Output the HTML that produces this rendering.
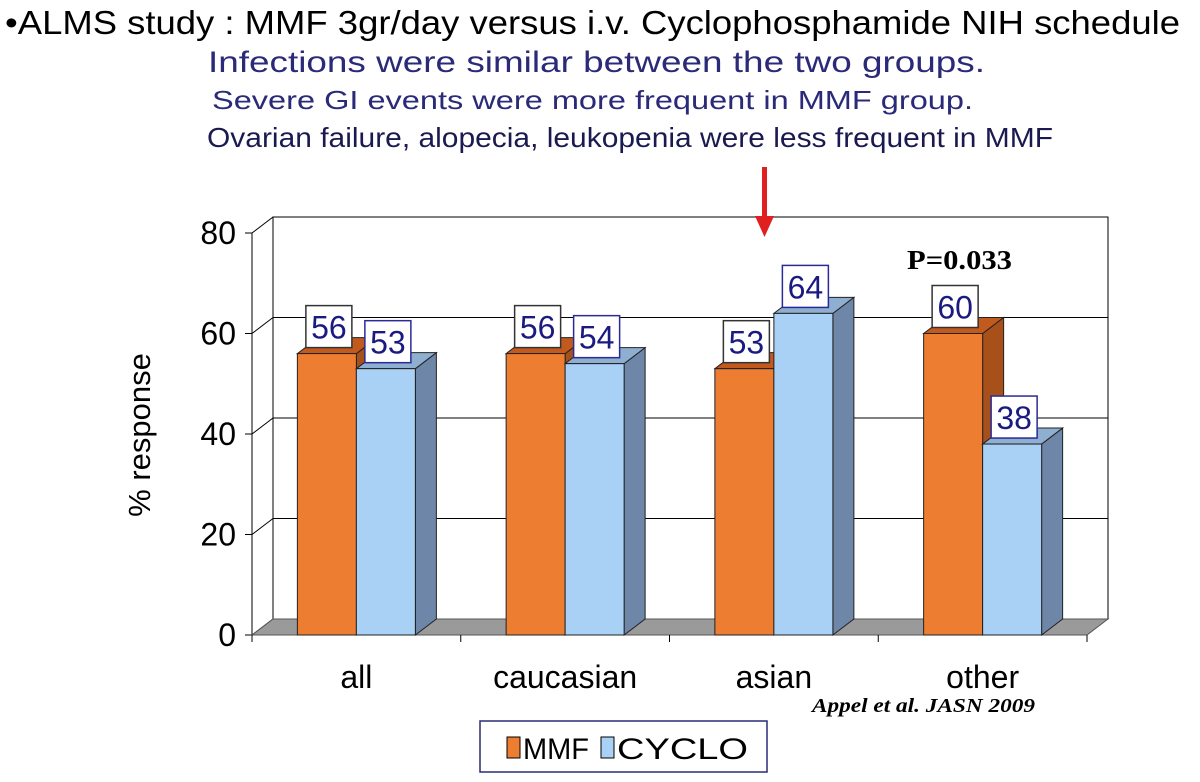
<!DOCTYPE html>
<html><head><meta charset="utf-8"><style>
body{margin:0;background:#fff;}
svg{display:block;font-family:"Liberation Sans",sans-serif;}
</style></head><body>
<svg id="c" width="1200" height="782" viewBox="0 0 1200 782">
<g id="plot"></g>
<text x="5" y="34" font-size="33" textLength="1175" lengthAdjust="spacingAndGlyphs" fill="#000">•ALMS study : MMF 3gr/day versus i.v. Cyclophosphamide NIH schedule</text>
<text x="208" y="72" font-size="30" textLength="777" lengthAdjust="spacingAndGlyphs" fill="#2a2a78">Infections were similar between the two groups.</text>
<text x="212" y="109" font-size="26" textLength="761" lengthAdjust="spacingAndGlyphs" fill="#2a2a78">Severe GI events were more frequent in MMF group.</text>
<text x="207" y="147" font-size="28" textLength="846" lengthAdjust="spacingAndGlyphs" fill="#1a1a50">Ovarian failure, alopecia, leukopenia  were less frequent in MMF</text>
<g><rect x="762" y="167" width="5" height="52" fill="#e02020"/><polygon points="755,216 774,216 764.5,237" fill="#e02020"/></g>
<text x="907" y="269" font-family="Liberation Serif,serif" font-weight="bold" font-size="27" textLength="105" lengthAdjust="spacingAndGlyphs">P=0.033</text>
<text transform="translate(150,435) rotate(-90)" text-anchor="middle" font-size="31">% response</text>
<text x="1035" y="712" text-anchor="end" font-family="Liberation Serif,serif" font-style="italic" font-weight="bold" font-size="20" textLength="223" lengthAdjust="spacingAndGlyphs">Appel et al. JASN 2009</text>
<g>
<rect x="480" y="721" width="287" height="51" fill="#fff" stroke="#2a2a78" stroke-width="1.5"/>
<rect x="507" y="737" width="13" height="21" fill="#ED7D31" stroke="#000"/>
<text x="523" y="759" font-size="30" textLength="66" lengthAdjust="spacingAndGlyphs">MMF</text>
<rect x="601" y="737" width="13" height="21" fill="#A9D0F5" stroke="#000"/>
<text x="617" y="759" font-size="30" textLength="131" lengthAdjust="spacingAndGlyphs">CYCLO</text>
</g>
</svg>
<script>
const categories=["all","caucasian","asian","other"];
const mmf=[56,56,53,60];
const cyclo=[53,54,64,38];
const yTicks=[0,20,40,60,80];
const NS="http://www.w3.org/2000/svg";
const g=document.getElementById('plot');
const X0=252,X1=1087,Y0=635,YMAX=80,PPU=(635-233)/80,DX=21,DY=-16;
const catW=(X1-X0)/categories.length,barW=59;
function y(v){return Y0-v*PPU;}
function mk(t,a){const e=document.createElementNS(NS,t);for(const k in a)e.setAttribute(k,a[k]);g.appendChild(e);return e;}
let e;
e=mk('polygon',{points:`${X0+DX},${y(0)+DY} ${X1+DX},${y(0)+DY} ${X1+DX},${y(YMAX)+DY} ${X0+DX},${y(YMAX)+DY}`,fill:'#fff',stroke:'#000','stroke-width':1});

yTicks.forEach(v=>{
 let l=mk('line',{x1:X0+DX,y1:y(v)+DY,x2:X1+DX,y2:y(v)+DY,stroke:'#000','stroke-width':1});
 
 let d=mk('line',{x1:X0,y1:y(v),x2:X0+DX,y2:y(v)+DY,stroke:'#000','stroke-width':1});
 
 let t=mk('line',{x1:X0-7,y1:y(v),x2:X0,y2:y(v),stroke:'#000'});
 
 let tx=mk('text',{x:X0-16,y:y(v)+11,'text-anchor':'end','font-size':32});
 tx.textContent=v;
});
e=mk('line',{x1:X0,y1:y(0),x2:X0,y2:y(YMAX),stroke:'#000'});

e=mk('polygon',{points:`${X0},${y(0)} ${X1},${y(0)} ${X1+DX},${y(0)+DY} ${X0+DX},${y(0)+DY}`,fill:'#9a9a9a',stroke:'#555'});

for(let i=0;i<=categories.length;i++){
 let t=mk('line',{x1:X0+i*catW,y1:Y0,x2:X0+i*catW,y2:Y0+7,stroke:'#000'});
 
}
function bar(x,v,front,top,side,name){
 const yt=y(v);
 let s=mk('polygon',{points:`${x+barW},${Y0} ${x+barW+DX},${Y0+DY} ${x+barW+DX},${yt+DY} ${x+barW},${yt}`,fill:side,stroke:'#222','stroke-width':1});
 
 let t=mk('polygon',{points:`${x},${yt} ${x+DX},${yt+DY} ${x+barW+DX},${yt+DY} ${x+barW},${yt}`,fill:top,stroke:'#222','stroke-width':1});
 
 let f=mk('rect',{x:x,y:yt,width:barW,height:Y0-yt,fill:front,stroke:'#222','stroke-width':1});
 
}
function label(x,v,name,bc){
 const yt=y(v);const cx=x+barW/2+2;
 let r=mk('rect',{x:cx-23,y:yt-48,width:46,height:42,fill:'#fff',stroke:bc,'stroke-width':1.5});
 
 let t=mk('text',{x:cx,y:yt-15,'text-anchor':'middle','font-size':32,fill:'#1a1a80'});
 t.textContent=v;
}
categories.forEach((c,i)=>{
 const cx=X0+catW*(i+0.5);
 bar(cx-barW,mmf[i],'#ED7D31','#C25A1E','#A8501A','bar-mmf-'+c);
 bar(cx,cyclo[i],'#A9D0F5','#8EAFCF','#6E86A8','bar-cyclo-'+c);
 label(cx-barW,mmf[i],'mmf-'+c,'#333');
 label(cx,cyclo[i],'cyclo-'+c,'#2a2a9a');
 let t=mk('text',{x:cx,y:688,'text-anchor':'middle','font-size':32});
 t.textContent=c;
});
</script>
</body></html>
